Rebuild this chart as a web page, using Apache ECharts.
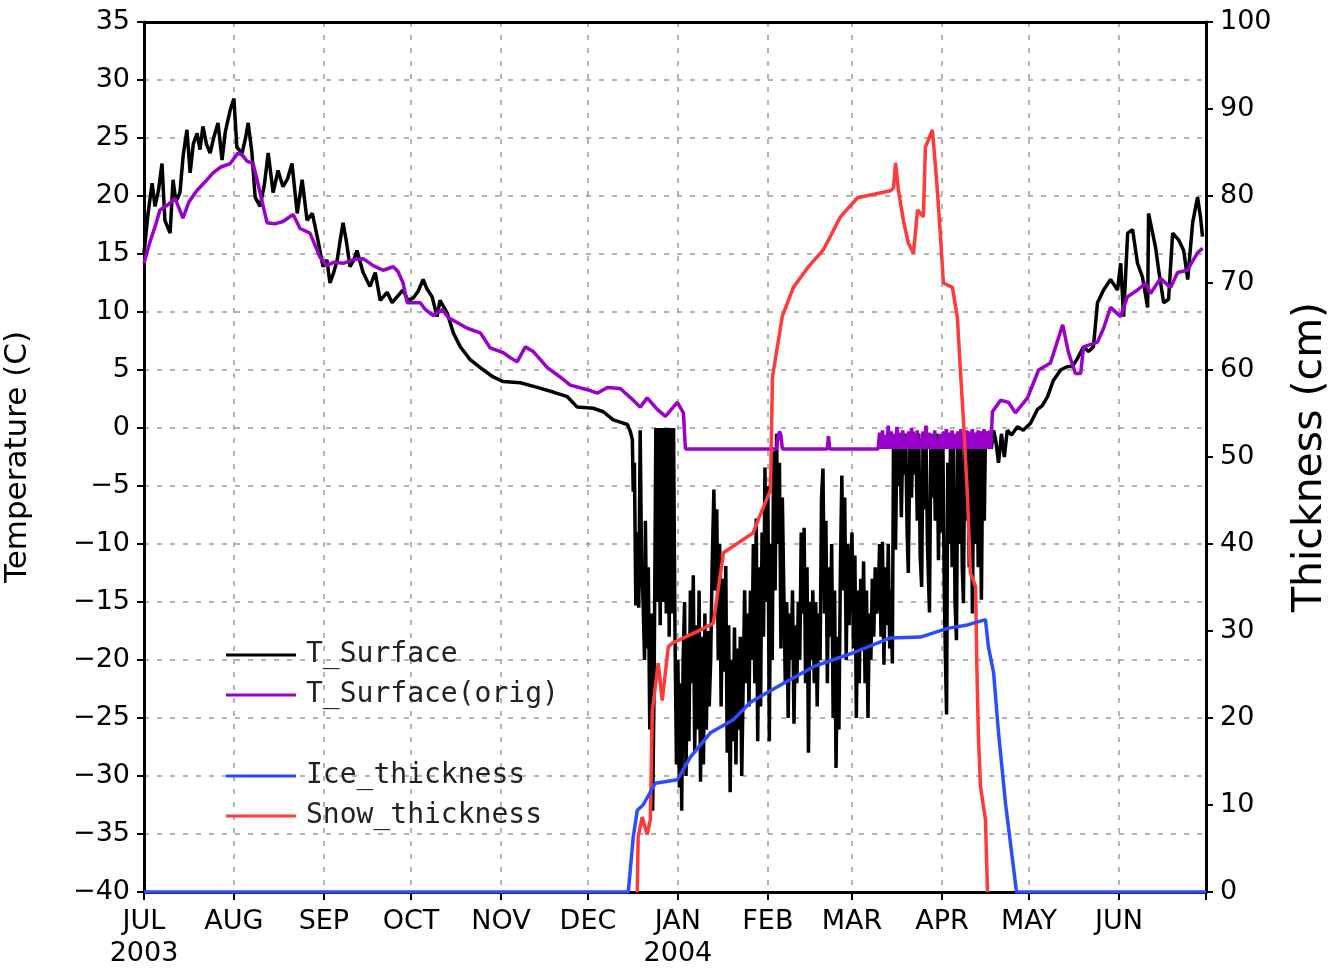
<!DOCTYPE html>
<html>
<head>
<meta charset="utf-8">
<script src="https://cdn.jsdelivr.net/npm/echarts@6/dist/echarts.min.js"></script>
<style>
  html, body { margin: 0; padding: 0; background: #fff; }
  #main { width: 1336px; height: 970px; }
</style>
</head>
<body>
<div id="main"></div>
<script>
// x = days since 1 Jul 2003
var monthStarts = [0, 31, 62, 92, 123, 153, 184, 215, 244, 275, 305, 336, 366];
var monthLabels = ['JUL\n2003', 'AUG', 'SEP', 'OCT', 'NOV', 'DEC', 'JAN\n2004', 'FEB', 'MAR', 'APR', 'MAY', 'JUN'];

var tSurface = [
  [0, 15.1], [1.4, 18.5], [2.8, 21.1], [3.8, 19.1], [5, 20.5], [6.2, 22.8], [7.2, 17.9], [9, 16.8], [10, 21.4], [11, 19.5],
  [12.4, 20.3], [13.5, 23.5], [14.8, 25.7], [15.9, 22.0], [17, 24.5], [18.3, 25.4], [19.3, 24], [20.3, 26.0], [21.5, 24.5],
  [22.8, 23.7], [24, 25], [25.5, 26.3], [26.9, 23.1], [28, 25.5], [29.7, 27.4], [31, 28.4], [32, 24.2], [33.8, 23.7], [35, 25],
  [35.9, 26.3], [37.2, 23.7], [38.3, 19.9], [40, 19.1], [41.5, 21], [42.8, 23.7], [44.5, 20.3], [46.2, 22.2], [47.9, 20.8],
  [49.5, 21.5], [51, 22.8], [52.8, 18.5], [54.5, 21.4], [56.2, 17.9], [58, 18.5], [59.7, 16.5], [61.7, 13.9], [63, 14.5],
  [64.1, 12.5], [65.5, 13.5], [66.6, 14.5], [67.5, 16], [68.6, 17.7], [69.8, 16], [71, 13.9], [72.3, 14.5], [73.4, 15.3],
  [75.5, 13.4], [77.9, 12.2], [79.7, 13.4], [81.4, 11.0], [83.8, 11.7], [85.5, 10.8], [87.2, 11.3], [89.3, 11.9], [91, 11.0],
  [92.8, 11.2], [94.5, 11.8], [96.2, 12.8], [97.5, 12], [99.3, 11.3], [101, 9.6], [102, 11.0], [104.5, 9.9], [106.6, 8.2],
  [109, 7.0], [112.4, 5.9], [115.9, 5.2], [120.3, 4.4], [123.8, 4.0], [129.7, 3.9], [135.5, 3.5], [141, 3.1], [145.9, 2.7],
  [149.3, 1.8], [154.8, 1.7], [158.3, 1.4], [161.7, 0.7], [164.1, 0.5], [166.6, 0.3], [167.6, -0.3], [168.3, -1],
  [168.6, -5.5], [169, -3], [169.5, -15.3], [170, -9], [170.5, -15.5], [171, -0.2], [171.5, -12], [172, -15], [172.5, -20],
  [172.8, -8], [173.3, -19], [173.8, -12], [174.3, -26], [174.8, -16], [175.3, -33], [175.8, -22],
  [176.4, 0], [176.9, -15], [177.4, 0], [177.9, -17], [178.4, 0], [179, -15], [179.5, 0], [180, -16], [180.5, 0], [181, -18],
  [181.5, 0], [182, -16], [182.5, 0], [183, -18],
  [183.5, -29], [184, -20], [184.5, -31], [185, -22], [185.3, -33], [185.8, -20], [186.3, -15], [186.8, -30], [187.3, -18],
  [187.8, -27], [188.3, -14], [188.8, -22], [189.3, -12.7], [189.8, -28], [190.3, -17], [190.8, -26], [191.3, -14],
  [191.8, -30.5], [192.3, -18], [192.8, -29], [193.3, -16], [193.8, -26], [194.3, -17.5], [194.8, -24], [195.3, -20], [195.8, -12],
  [196.4, -5.3], [196.9, -14], [197.4, -7], [197.9, -20], [198.4, -10], [198.9, -24], [199.4, -13],
  [200, -21], [200.5, -11.9], [201, -28], [201.5, -17], [202, -31.4], [202.5, -20], [203, -27], [203.5, -17.2], [204, -29],
  [204.5, -19], [205, -26], [205.5, -18], [206, -30], [206.5, -22],
  [207, -14], [207.5, -22], [208, -16], [208.5, -24], [209, -14], [209.5, -20],
  [210, -10], [210.5, -22], [211, -7.8], [211.5, -27], [212, -12], [212.5, -24], [213, -9], [213.5, -18],
  [214, -3.4], [214.5, -15], [215, -5], [215.5, -27], [216, -10], [216.5, -20],
  [217, -2], [217.5, -14], [218, -0.5], [218.5, -10], [219, -3], [219.5, -19], [220, -6],
  [220.5, -14], [221, -22], [221.5, -15], [222, -25], [222.5, -16], [223, -20], [223.5, -14], [224, -25.5], [224.5, -17],
  [225, -22], [225.5, -15], [226, -20],
  [226.5, -9], [227, -16], [227.5, -8.6], [228, -22], [228.5, -12], [229, -28], [229.5, -15], [230, -20],
  [230.5, -14], [231, -22], [231.5, -15], [232, -24], [232.5, -16], [233, -20],
  [233.5, -6], [234, -3.5], [234.5, -16], [235, -8], [235.5, -22], [236, -12], [236.5, -18],
  [237, -10], [237.5, -25], [238, -14], [238.5, -29.3], [239, -18], [239.5, -26],
  [240, -12], [240.5, -4.1], [241, -14], [241.5, -6], [242, -20], [242.5, -10], [243, -17], [243.5, -12],
  [244, -9], [244.5, -19], [245, -11], [245.5, -25], [246, -14], [246.5, -22],
  [247, -13], [247.5, -19], [248, -11.5], [248.5, -22], [249, -14], [249.5, -25], [250, -16], [250.5, -20], [251, -13],
  [251.5, -18], [252, -12], [252.5, -16],
  [253, -15], [253.5, -10], [254, -18], [254.5, -9.8], [255, -20.4], [255.5, -12], [256, -17], [256.5, -10], [257, -19],
  [257.5, -14], [257.9, -20.3], [258.3, -1.3], [258.7, -6], [259, -10.5], [259.5, -0.5], [260, -5], [260.5, -0.8],
  [261, -7.7], [261.5, -1], [262, -4], [262.5, -0.5], [263, -9], [263.4, -12.5], [264, -0.8], [264.5, -6], [265, -0.3],
  [265.5, -4], [266, -1], [266.5, -8], [267, -0.5], [267.5, -11], [268, -13.7], [268.5, -0.5], [269, -7], [269.5, -1],
  [270, -10], [270.7, -15.9], [271.2, -0.5], [271.7, -6], [272.2, -1], [272.7, -8], [273.3, -0.5], [273.8, -11.4],
  [274.3, -1], [274.8, -9], [275.3, -0.5], [275.8, -14], [276.2, -20], [276.6, -24.7], [277, -3], [277.5, -10], [278, -0.5],
  [278.5, -12], [279, -1], [279.5, -15], [280, -18.3], [280.5, -0.5], [281, -10], [281.5, -1], [282, -12], [282.4, -15.1],
  [282.9, -0.3], [283.4, -8], [283.9, -1], [284.4, -12], [285, -0.5], [285.5, -16], [286, -1], [286.5, -10], [287, -0.5],
  [287.5, -12], [288, -1], [288.6, -14.8], [289.1, -0.5], [289.6, -8], [290, -0.3], [290.5, -1.5], [291, -0.5], [292, -1.8],
  [292.8, -0.2], [293.5, -1], [294.5, -3.0], [295.5, -0.5], [296.5, -2.5], [297.5, -0.2], [299, -0.6], [301, 0.1],
  [303, -0.2], [305.5, 0.4], [307.9, 1.6], [309.5, 1.9], [311.4, 2.7], [313.4, 4.1], [315.9, 5.0], [318.3, 5.3], [320, 5.3],
  [321.7, 6.0], [323.8, 7.0], [325.5, 6.6], [327.2, 7.0], [328.6, 10.8], [330.7, 11.9], [333.1, 12.8], [335.5, 11.9],
  [336.6, 14.2], [337.6, 9.6], [339, 16.8], [340.7, 17.1], [342.4, 14.2], [344.1, 13.0], [345.9, 10.4], [346.2, 18.5],
  [348.6, 15.6], [349.7, 13.6], [351.4, 10.8], [353.1, 11.1], [354.5, 16.8], [356.6, 16.2], [358.3, 15.3], [359.7, 12.8],
  [361.4, 17.7], [363.1, 19.9], [364.1, 18.2], [364.8, 16.5]
];

var tSurfaceOrig = [
  [0, 14.2], [2, 16], [4, 17.5], [5.5, 18.8], [8, 19.2], [10.7, 19.8], [12, 19], [13.4, 18.1], [15.5, 19.5], [18.3, 20.5],
  [21, 21.2], [23.8, 22.0], [26.5, 22.5], [29.7, 22.8], [32.4, 23.7], [34, 23.5], [35.5, 23], [37.6, 22.8], [40, 20.3],
  [42.4, 17.7], [45, 17.6], [47.9, 17.8], [51.4, 18.4], [53.8, 17.2], [57.2, 16.8], [60.7, 14.7], [63, 14.0], [65.5, 14.3],
  [68.6, 14.2], [72, 14.5], [75.5, 14.6], [79, 14.0], [82.4, 13.6], [85.9, 13.9], [87.5, 13.5], [89.3, 12.5], [90.7, 10.8],
  [95.2, 10.8], [97, 10.2], [99.7, 9.7], [102.8, 10.2], [105, 9.5], [107.9, 9.1], [111.4, 8.6], [115.9, 8.2], [117.5, 7.6],
  [119.3, 6.9], [123.8, 6.5], [126, 6.1], [128.6, 5.7], [131.4, 7.0], [134.1, 6.6], [139, 5.2], [143.4, 4.4], [146.9, 3.7],
  [152.8, 3.3], [156.2, 3.0], [159.7, 3.5], [164.1, 3.4], [168.6, 2.4], [171, 1.8], [173.4, 2.6], [176.9, 1.6], [179.7, 1.0],
  [183.8, 2.2], [185.9, 1.3], [186.6, -1.8], [218, -1.8], [218.5, -0.8], [219, -0.3], [219.5, -0.6], [220, -1.8],
  [235.5, -1.8], [235.9, -0.7], [236.3, -1.8],
  [253, -1.8], [253.5, -0.4], [254, -1.8], [254.5, -0.2], [255, -1.8], [255.5, -0.6], [256, -1.8], [256.5, 0.2], [257, -1.8],
  [257.5, -0.3], [258, -1.8], [258.5, -0.5], [259, -1.8], [259.5, 0.1], [260, -1.8], [260.5, -0.4], [261, -1.8], [261.5, -0.2],
  [262, -1.8], [262.5, -0.8], [263, -1.8], [263.5, -0.3], [264, -1.8], [264.5, 0.0], [265, -1.8], [265.5, -0.5], [266, -1.8],
  [266.5, -0.2], [267, -1.8], [267.5, -0.9], [268, -1.8], [268.5, -0.3], [269, -1.8], [269.5, 0.2], [270, -1.8], [270.5, -0.4],
  [271, -1.8], [271.5, -0.6], [272, -1.8], [272.5, -0.2], [273, -1.8], [273.5, -0.9], [274, -1.8], [274.5, -0.5], [275, -1.8],
  [275.5, -0.3], [276, -1.8], [276.5, -0.1], [277, -1.8], [277.5, -0.4], [278, -1.8], [278.5, -0.2], [279, -1.8], [279.5, -0.5],
  [280, -1.8], [280.5, -0.3], [281, -1.8], [281.5, -0.1], [282, -1.8], [282.5, -0.4], [283, -1.8], [283.5, -0.2], [284, -1.8],
  [284.5, -0.3], [285, -1.8], [285.5, -0.1], [286, -1.8], [286.5, -0.4], [287, -1.8], [287.5, -0.2], [288, -1.8], [288.5, -0.3],
  [289, -1.8], [289.5, -0.1], [290, -1.8], [290.5, -0.3], [291, -1.8], [291.5, -0.2], [291.8, -1.8],
  [292.4, 1.4], [295.2, 2.4], [298, 2.2], [300.3, 1.3], [304.5, 2.6], [308.3, 5.0], [312.4, 5.6], [316.6, 8.9], [318.6, 6.5],
  [321, 4.7], [322.8, 4.7], [323.8, 7.0], [328.6, 7.4], [330.7, 8.6], [333.1, 10.4], [336.6, 9.6], [338.9, 11.3], [342.4, 11.9],
  [345.2, 12.5], [346.9, 11.6], [350.3, 12.9], [353.8, 12.1], [356.2, 13.4], [359.7, 13.6], [360.7, 14.1], [363.1, 15.1],
  [364.8, 15.5]
];

var iceThickness = [
  [0, 0], [166.9, 0], [168.6, 6.3], [170, 9.4], [172, 10], [176.2, 12.5], [183.8, 12.9], [188.3, 15.5], [195.2, 18.3],
  [203.1, 19.8], [209, 21.8], [218.3, 23.6], [230.7, 25.9], [244.5, 27.5], [257.2, 29.2], [267.6, 29.3], [276.9, 30.3],
  [283.8, 30.7], [290, 31.3], [291, 28.2], [292.8, 25.2], [294.5, 18.3], [296.9, 10.2], [300.7, 0], [366, 0]
];

var snowThickness = [
  [170, 0], [170.3, 6.3], [171.7, 8.6], [173.4, 6.6], [174.5, 8.3], [175.2, 20.9], [177.2, 26.3], [178.6, 22], [180.7, 28.2],
  [182.1, 28.6], [191.7, 30.1], [196.2, 30.9], [199.7, 39], [210, 41.3], [211.7, 42.8], [215.9, 46.2], [216.6, 59.2],
  [220, 66.2], [223.8, 69.5], [228.6, 71.7], [234.1, 73.8], [240, 77.6], [245.9, 79.8], [257.2, 80.6], [258.3, 80.9],
  [259, 83.8], [260, 80.7], [261.7, 77.2], [263.4, 74.6], [265.2, 73.4], [266.6, 78.4], [268.6, 77.6], [269.3, 85.6],
  [271.7, 87.6], [272.4, 84.9], [273.4, 80.7], [274.5, 75.3], [275.5, 70], [278.6, 69.5], [280.3, 66.1], [281.4, 59.7],
  [282.4, 54.3], [283.8, 45.4], [284.8, 36.7], [286.6, 35.1], [287, 26.3], [287.6, 17.5], [288.3, 12.1], [290, 8.3], [290.7, 0]
];

var chart = echarts.init(document.getElementById('main'));

var gridLine = { show: true, lineStyle: { color: '#9a9a9a', width: 1.5, type: [5, 8] } };
var labelFont = { fontFamily: 'DejaVu Sans', fontSize: 27, color: '#000' };
var legendText = { fontFamily: 'DejaVu Sans Mono', fontSize: 28, color: '#222', lineHeight: 28, padding: [0, 0, 0, 5] };

chart.setOption({
  animation: false,
  backgroundColor: '#fff',
  grid: { left: 144, right: 130, top: 22, bottom: 78, containLabel: false, outerBoundsMode: 'none' },
  legend: [
    {
      data: ['T_Surface', 'T_Surface(orig)'],
      orient: 'vertical', left: 221, top: 636, icon: 'rect',
      itemWidth: 70, itemHeight: 3, itemGap: 12, textStyle: legendText
    },
    {
      data: ['Ice_thickness', 'Snow_thickness'],
      orient: 'vertical', left: 221, top: 757, icon: 'rect',
      itemWidth: 70, itemHeight: 3, itemGap: 12, textStyle: legendText
    }
  ],
  xAxis: [
    {
      type: 'value', min: 0, max: 366, position: 'bottom',
      axisLine: { onZero: false, lineStyle: { color: '#000', width: 3 } },
      axisTick: { show: true, length: 8, lineStyle: { color: '#000', width: 2 }, customValues: monthStarts },
      axisLabel: Object.assign({}, labelFont, {
        margin: 14, lineHeight: 32,
        customValues: monthStarts.slice(0, 12),
        formatter: function (v) { return monthLabels[monthStarts.indexOf(v)]; }
      }),
      splitLine: gridLine
    },
    {
      type: 'value', min: 0, max: 366, position: 'top',
      axisLine: { show: true, onZero: false, lineStyle: { color: '#000', width: 3 } },
      axisTick: { show: false }, axisLabel: { show: false }, splitLine: { show: false }
    }
  ],
  yAxis: [
    {
      type: 'value', min: -40, max: 35, interval: 5, position: 'left',
      name: 'Temperature (C)', nameLocation: 'middle', nameGap: 111, nameRotate: 90,
      nameTextStyle: { fontFamily: 'DejaVu Sans', fontSize: 31, color: '#000' },
      axisLine: { show: true, onZero: false, lineStyle: { color: '#000', width: 3 } },
      axisTick: { show: true, length: 7, lineStyle: { color: '#000', width: 2 } },
      axisLabel: Object.assign({}, labelFont, {
        margin: 14,
        formatter: function (v) { return String(v).replace('-', '\u2212'); }
      }),
      splitLine: gridLine
    },
    {
      type: 'value', min: 0, max: 100, interval: 10, position: 'right',
      name: 'Thickness (cm)', nameLocation: 'middle', nameGap: 84, nameRotate: 90,
      nameTextStyle: { fontFamily: 'DejaVu Sans', fontSize: 41, color: '#000' },
      axisLine: { show: true, onZero: false, lineStyle: { color: '#000', width: 3 } },
      axisTick: { show: true, length: 7, lineStyle: { color: '#000', width: 2 } },
      axisLabel: Object.assign({}, labelFont, { margin: 14 }),
      splitLine: { show: false }
    }
  ],
  series: [
    {
      name: 'T_Surface', type: 'line', xAxisIndex: 0, yAxisIndex: 0, data: tSurface,
      showSymbol: false, symbol: 'none', color: '#000', lineStyle: { width: 3.5, color: '#000' }, z: 2
    },
    {
      name: 'T_Surface(orig)', type: 'line', xAxisIndex: 0, yAxisIndex: 0, data: tSurfaceOrig,
      showSymbol: false, symbol: 'none', color: '#9900cc', lineStyle: { width: 3.5, color: '#9900cc' }, z: 3
    },
    {
      name: 'Snow_thickness', type: 'line', xAxisIndex: 0, yAxisIndex: 1, data: snowThickness,
      showSymbol: false, symbol: 'none', color: '#ff3a3a', lineStyle: { width: 3.5, color: '#ff3a3a' }, z: 4
    },
    {
      name: 'Ice_thickness', type: 'line', xAxisIndex: 0, yAxisIndex: 1, data: iceThickness,
      showSymbol: false, symbol: 'none', color: '#2e4cff', lineStyle: { width: 3.5, color: '#2e4cff' }, z: 5
    }
  ]
});
</script>
</body>
</html>
